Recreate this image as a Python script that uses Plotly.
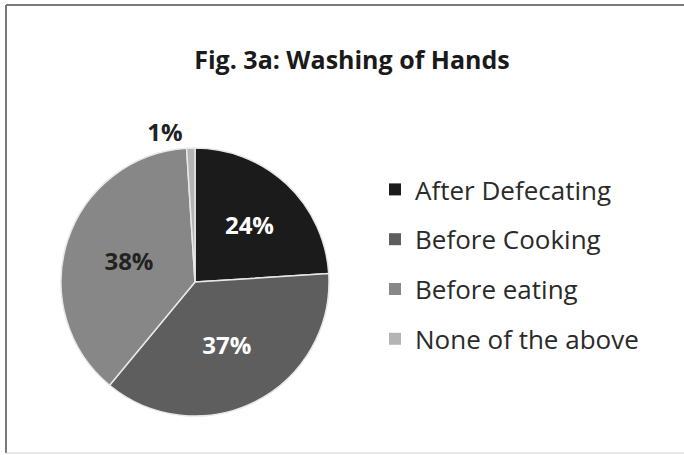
import plotly.graph_objects as go

title_text = "Fig. 3a: Washing of Hands"
categories = ["After Defecating", "Before Cooking", "Before eating", "None of the above"]
values = [24, 37, 38, 1]
colors = ["#1b1b1b", "#5e5e5e", "#878787", "#b4b4b4"]
label_colors = ["white", "white", "#222222", "#222222"]
text_positions = ["inside", "inside", "inside", "outside"]

W, H = 684, 455
FONT = "Open Sans"

fig = go.Figure()
fig.add_trace(go.Pie(
    labels=categories,
    values=values,
    sort=False,
    direction="clockwise",
    rotation=0,
    marker=dict(colors=colors, line=dict(color="#e8e8e8", width=1.5)),
    texttemplate="%{percent:.0%}",
    textposition=text_positions,
    insidetextfont=dict(color=label_colors, size=24, family=FONT, weight="bold"),
    outsidetextfont=dict(color="#222222", size=24, family=FONT, weight="bold"),
    insidetextorientation="horizontal",
    showlegend=False,
    domain=dict(x=[61 / W, 329 / W], y=[1 - 416 / H, 1 - 148 / H]),
    hoverinfo="label+percent",
))

# legend entries (dummy traces so the vertical spacing can match)
for name, col in zip(categories, colors):
    fig.add_trace(go.Scatter(
        x=[None], y=[None], mode="markers", name=name,
        marker=dict(symbol="square", size=12, color=col),
        legendgroup=name, showlegend=True,
    ))

fig.update_layout(
    width=W, height=H,
    margin=dict(l=0, r=0, t=0, b=0),
    paper_bgcolor="white", plot_bgcolor="white",
    font=dict(family=FONT, color="#222222"),
    title=dict(text="<b>" + title_text + "</b>", x=352 / W, xanchor="center",
               y=1 - 60 / H, yanchor="middle",
               font=dict(size=25, family=FONT, color="#1a1a1a")),
    xaxis=dict(visible=False), yaxis=dict(visible=False),
    legend=dict(x=375 / W, xanchor="left", y=1 - 166 / H, yanchor="top",
                font=dict(size=26, family=FONT, color="#2a2a2a"),
                tracegroupgap=13, itemsizing="constant",
                bgcolor="rgba(0,0,0,0)"),
    shapes=[
        dict(type="line", xref="paper", yref="paper", x0=6 / W, x1=1.0,
             y0=1 - 5 / H, y1=1 - 5 / H, line=dict(color="#7a7a7a", width=2)),
        dict(type="line", xref="paper", yref="paper", x0=6 / W, x1=6 / W,
             y0=1 - 453 / H, y1=1 - 5 / H, line=dict(color="#7a7a7a", width=2)),
        dict(type="line", xref="paper", yref="paper", x0=6 / W, x1=1.0,
             y0=1 - 453 / H, y1=1 - 453 / H, line=dict(color="#d0d0d0", width=1)),
    ],
)

fig.write_html("out.html")
